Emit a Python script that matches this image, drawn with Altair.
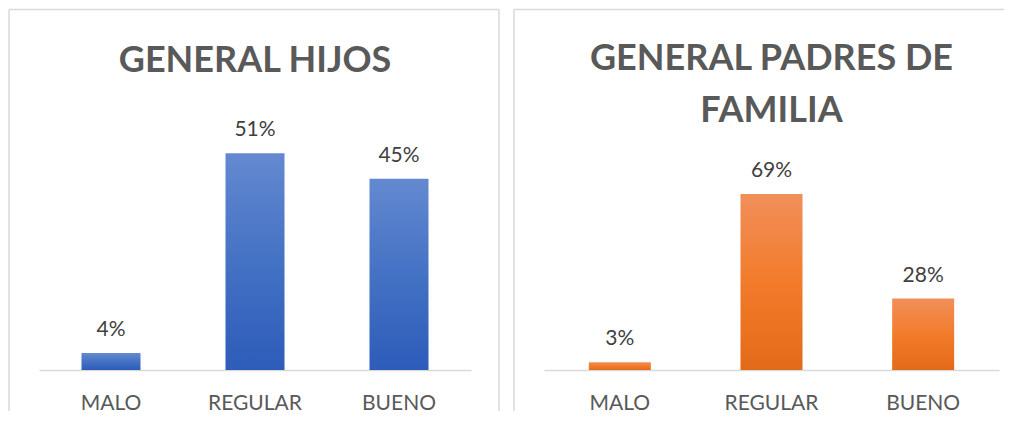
import altair as alt
import pandas as pd

categories = ["MALO", "REGULAR", "BUENO"]
hijos_values = [4, 51, 45]
padres_values = [3, 69, 28]
hijos_title = "GENERAL HIJOS"
padres_title = ["GENERAL PADRES DE", "FAMILIA"]

blue_grad = {
    "gradient": "linear", "x1": 0, "y1": 0, "x2": 0, "y2": 1,
    "stops": [
        {"offset": 0, "color": "#6489d0"},
        {"offset": 0.5, "color": "#4472c4"},
        {"offset": 1, "color": "#2d5cba"},
    ],
}
orange_grad = {
    "gradient": "linear", "x1": 0, "y1": 0, "x2": 0, "y2": 1,
    "stops": [
        {"offset": 0, "color": "#f18f5a"},
        {"offset": 0.5, "color": "#f27b2b"},
        {"offset": 1, "color": "#e36a18"},
    ],
}

FRAME = "#d9d9d9"
FONT = "Lato"
H = 255


def panel(values, title, width, ymax, size, grad, title_offset, top_len, right_line):
    df = pd.DataFrame({
        "cat": categories,
        "val": values,
        "label": [f"{v}%" for v in values],
    })
    x = alt.X(
        "cat:N", sort=categories,
        scale=alt.Scale(paddingInner=0, paddingOuter=0),
        axis=alt.Axis(title=None, labelAngle=0, ticks=False, tickSize=0,
                      labelPadding=22, labelFont=FONT, labelFontSize=21,
                      labelColor="#595959", domainColor=FRAME, domainWidth=1.5,
                      grid=False),
    )
    y = alt.Y("val:Q", scale=alt.Scale(domain=[0, ymax], nice=False), axis=None)

    bars = alt.Chart(df).mark_bar(size=size, color=grad).encode(x=x, y=y)
    labels = alt.Chart(df).mark_text(
        dy=-17, baseline="alphabetic", font=FONT, fontSize=21, color="#404040"
    ).encode(x=x, y=y, text="label:N")

    fdf = pd.DataFrame({"k": [0]})
    layers = [
        alt.Chart(fdf).mark_rule(color=FRAME, strokeWidth=1.5).encode(
            x=alt.value(-30), y=alt.value(-105.5), y2=alt.value(296)),
        alt.Chart(fdf).mark_rule(color=FRAME, strokeWidth=1.5).encode(
            x=alt.value(-30), x2=alt.value(top_len), y=alt.value(-105.5)),
    ]
    if right_line is not None:
        layers.append(
            alt.Chart(fdf).mark_rule(color=FRAME, strokeWidth=1.5).encode(
                x=alt.value(right_line), y=alt.value(-105.5), y2=alt.value(296)))
    layers += [bars, labels]

    return alt.layer(*layers).properties(
        width=width, height=H,
        title=alt.TitleParams(
            text=title, font=FONT, fontSize=36, fontWeight="bold",
            color="#595959", anchor="middle", frame="group",
            offset=title_offset, lineHeight=52,
        ),
    )


left = panel(hijos_values, hijos_title, 432, 60, 59, blue_grad, -71, 460, 460)
right = panel(padres_values, padres_title, 455, 100, 62, orange_grad, -121, 460, None)

chart = alt.hconcat(left, right, spacing=13).properties(padding=0).configure_view(stroke=None)

chart.save("out.html", embed_options={"renderer": "svg", "actions": False})
